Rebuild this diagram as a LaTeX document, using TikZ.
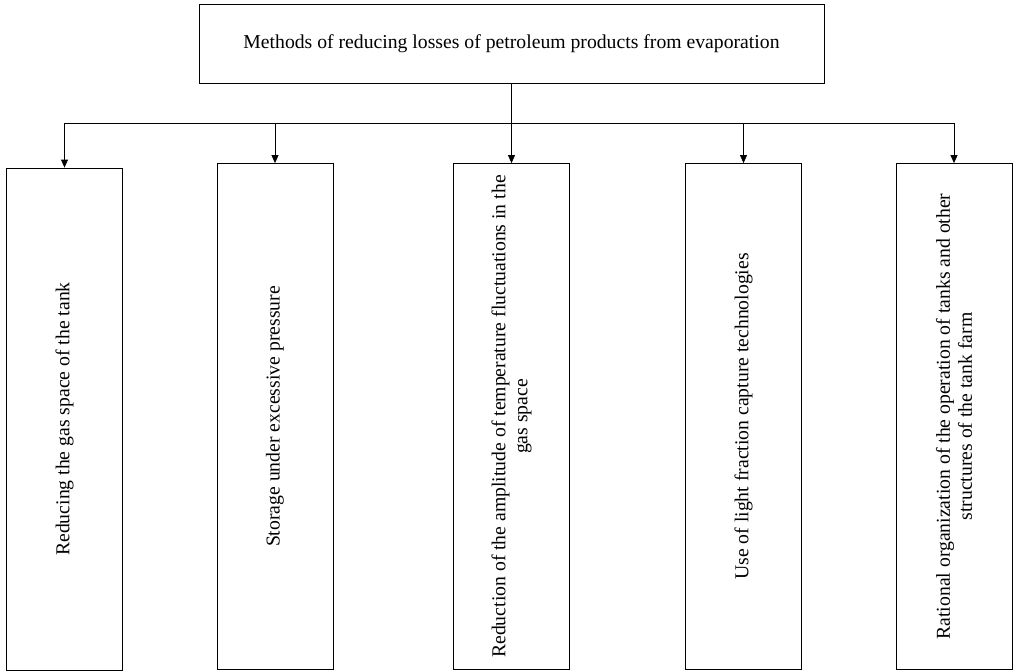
\documentclass[tikz,border=0pt]{standalone}
\usepackage{fontspec}
\setmainfont{Liberation Serif}
\usepackage{tikz}
\usetikzlibrary{arrows.meta}

\newcommand{\vtext}[1]{\parbox{490pt}{\centering\hyphenpenalty=10000 #1}}

\begin{document}
\begin{tikzpicture}[x=1pt,y=1pt]
    \useasboundingbox (0,0) rectangle (1013,-672);

    \tikzstyle{head}=[draw=black,line width=0.8pt,minimum width=625pt,minimum height=79pt,inner sep=0pt,font=\fontsize{19.7}{22}\selectfont]
    \tikzstyle{method}=[draw=black,line width=0.8pt,rotate=90,minimum width=506pt,minimum height=116pt,inner sep=0pt,font=\fontsize{19.7}{22}\selectfont]

    \node[head]  (top) at (511.5,-43.5) {Methods of reducing losses of petroleum products from evaporation};

    \node[method,minimum width=502pt]  (gas) at (64.5,-419) {\vtext{Reducing the gas space of the tank}};
    \node[method]  (press) at (275,-416.5) {\vtext{Storage under excessive pressure}};
    \node[method]  (temp) at (511.5,-416.5) {\vtext{Reduction of the amplitude of temperature fluctuations in the gas space}};
    \node[method]  (light) at (743.5,-416.5) {\vtext{Use of light fraction capture technologies}};
    \node[method]  (farm) at (954,-416.5) {\vtext{Rational organization of the operation of tanks and other structures of the tank farm}};

    \coordinate (busL) at (64.5,-123);
    \coordinate (busR) at (954,-123);

    \tikzstyle{bus} = [draw=black, line width=0.8pt]
    \tikzstyle{trunk} = [draw=black, line width=1.3pt]
    \tikzstyle{fwd} = [draw=black, line width=0.8pt, -{Triangle[length=8pt,width=7pt]}]

          \draw [trunk] (top.south) -- (top.south |- busL);
          \draw [bus] (busL) -- (busR);
          \draw [fwd] (gas.east |- busL) -- (gas.east);
          \draw [fwd] (press.east |- busL) -- (press.east);
          \draw [fwd] (temp.east |- busL) -- (temp.east);
          \draw [fwd] (light.east |- busL) -- (light.east);
          \draw [fwd] (farm.east |- busL) -- (farm.east);

  \end{tikzpicture}
\end{document}
